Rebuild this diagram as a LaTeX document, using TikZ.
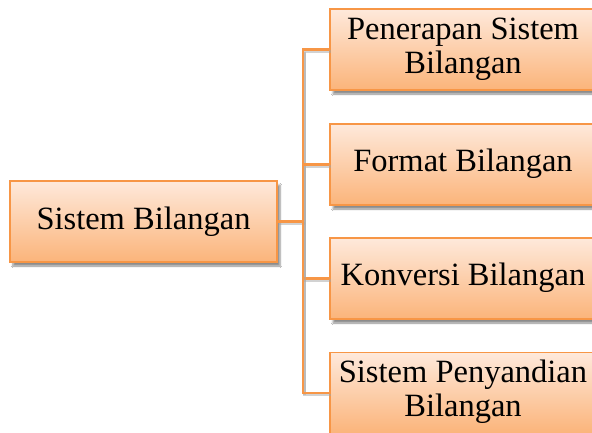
\documentclass[tikz,border=0pt]{standalone}
\usepackage{fontspec}
\setmainfont{Liberation Serif}
\usetikzlibrary{shadows.blur}
\definecolor{boxline}{HTML}{F79646}
\definecolor{boxtop}{HTML}{FEE9DB}
\definecolor{boxbot}{HTML}{FBB47A}
\newcommand{\boxtxt}[1]{\raisebox{-2pt}{\begin{tabular}{@{}c@{}}#1\end{tabular}}\hspace*{24pt}}
\tikzset{
  topicbox/.style={draw=boxline, line width=1.6pt, top color=boxtop, bottom color=boxbot,
    minimum width=290pt, minimum height=81pt, inner sep=0pt,
    font=\fontsize{32.5pt}{34pt}\selectfont,
    blur shadow={shadow xshift=3pt, shadow yshift=-4pt, shadow blur steps=6, shadow opacity=45}},
  link/.style={draw=boxline, line width=2.4pt,
    preaction={draw=black!35, opacity=0.5, line width=2.4pt, transform canvas={xshift=1.5pt, yshift=-2pt}}}
}
\begin{document}
\begin{tikzpicture}[x=1pt,y=-1pt]
\useasboundingbox[fill=white] (0,0) rectangle (592,432);
\coordinate (J) at (303,221.5);
\coordinate (Jt) at (303,49.5);
\coordinate (Jb) at (303,393);
\path[link] (Jt) -- (Jb);
\node[topicbox, minimum width=267pt] (root) at (143.5,221.5) {Sistem Bilangan};
\node[topicbox] (a) at (475,49.5) {\boxtxt{Penerapan Sistem\\Bilangan}};
\node[topicbox] (b) at (475,164.5) {\boxtxt{Format Bilangan}};
\node[topicbox] (c) at (475,278.5) {\boxtxt{Konversi Bilangan}};
\node[topicbox] (d) at (475,393) {\boxtxt{Sistem Penyandian\\Bilangan}};
\path[link] (root.east) -- (J);
\path[link] (J) |- (a.west);
\path[link] (J) |- (b.west);
\path[link] (J) |- (c.west);
\path[link] (J) |- (d.west);
\end{tikzpicture}
\end{document}
